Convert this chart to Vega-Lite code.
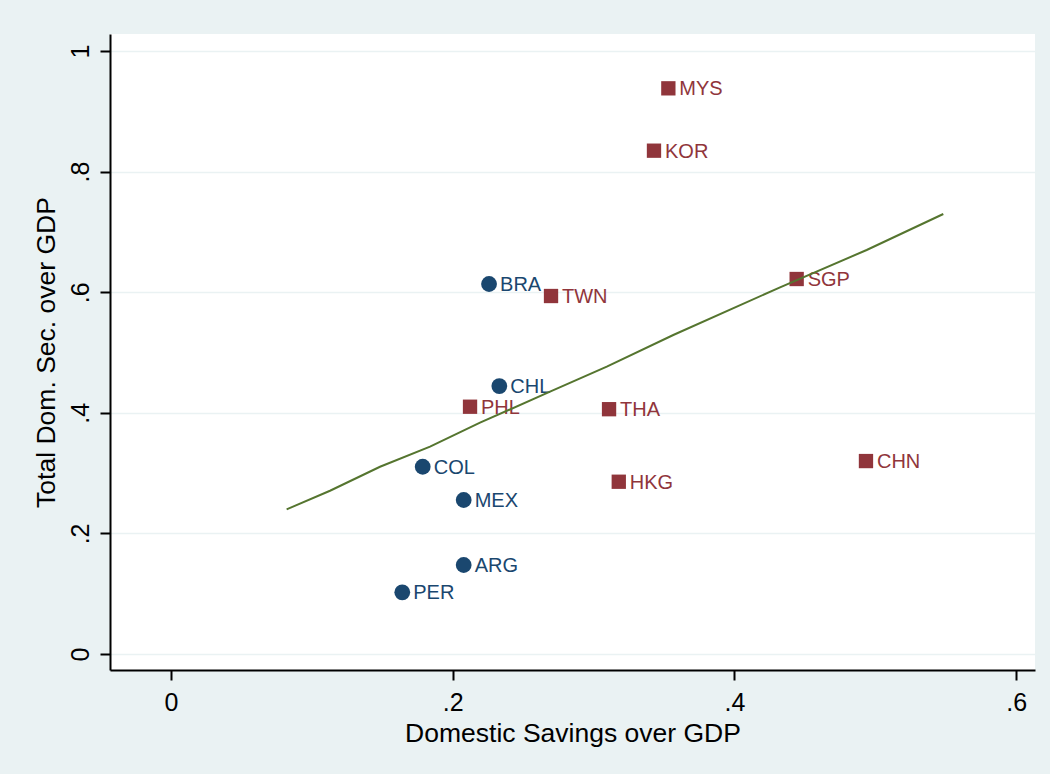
{
  "$schema": "https://vega.github.io/schema/vega-lite/v6.json",
  "width": 925,
  "height": 636,
  "autosize": {"type": "none"},
  "padding": {"left": 110, "top": 34, "right": 15, "bottom": 104},
  "background": "#EAF2F3",
  "config": {
    "font": "Liberation Sans",
    "view": {"fill": "white", "stroke": null},
    "axis": {
      "labelFontSize": 25,
      "titleFontSize": 26.5,
      "titleFontWeight": "normal",
      "labelColor": "black",
      "titleColor": "black",
      "domainColor": "black",
      "domainWidth": 2,
      "tickColor": "black",
      "tickWidth": 2,
      "tickSize": 10,
      "gridColor": "#EAF2F3",
      "gridWidth": 1.5,
      "labelFont": "Liberation Sans",
      "titleFont": "Liberation Sans"
    }
  },
  "datasets": {
    "pts": [
      {"x": 0.2258, "y": 0.6136, "code": "BRA", "region": "Latin America"},
      {"x": 0.2331, "y": 0.4444, "code": "CHL", "region": "Latin America"},
      {"x": 0.1787, "y": 0.3106, "code": "COL", "region": "Latin America"},
      {"x": 0.2078, "y": 0.2554, "code": "MEX", "region": "Latin America"},
      {"x": 0.2078, "y": 0.1476, "code": "ARG", "region": "Latin America"},
      {"x": 0.1642, "y": 0.1023, "code": "PER", "region": "Latin America"},
      {"x": 0.3531, "y": 0.9381, "code": "MYS", "region": "Asia"},
      {"x": 0.3429, "y": 0.8347, "code": "KOR", "region": "Asia"},
      {"x": 0.4442, "y": 0.6219, "code": "SGP", "region": "Asia"},
      {"x": 0.2698, "y": 0.5937, "code": "TWN", "region": "Asia"},
      {"x": 0.2123, "y": 0.4101, "code": "PHL", "region": "Asia"},
      {"x": 0.311, "y": 0.406, "code": "THA", "region": "Asia"},
      {"x": 0.3179, "y": 0.2857, "code": "HKG", "region": "Asia"},
      {"x": 0.4934, "y": 0.320, "code": "CHN", "region": "Asia"}
    ],
    "fit": [
      {"x": 0.0821, "y": 0.2400},
      {"x": 0.1129, "y": 0.2708},
      {"x": 0.1484, "y": 0.3106},
      {"x": 0.1839, "y": 0.3438},
      {"x": 0.2194, "y": 0.3836},
      {"x": 0.2691, "y": 0.4350},
      {"x": 0.3094, "y": 0.4765},
      {"x": 0.3566, "y": 0.5290},
      {"x": 0.4324, "y": 0.6081},
      {"x": 0.4939, "y": 0.6700},
      {"x": 0.5483, "y": 0.7297}
    ]
  },
  "encoding": {
    "x": {
      "field": "x",
      "type": "quantitative",
      "scale": {"domain": [-0.0433, 0.6134], "nice": false, "zero": false},
      "axis": {
        "title": "Domestic Savings over GDP",
        "values": [0, 0.2, 0.4, 0.6],
        "grid": false,
        "labelExpr": "replace(format(datum.value, '.1~f'), '0.', '.')",
        "labelPadding": 10,
        "titlePadding": 5
      }
    },
    "y": {
      "field": "y",
      "type": "quantitative",
      "scale": {"domain": [-0.0265, 1.0282], "nice": false, "zero": false},
      "axis": {
        "title": "Total Dom. Sec. over GDP",
        "values": [0, 0.2, 0.4, 0.6, 0.8, 1],
        "grid": true,
        "labelExpr": "replace(format(datum.value, '.1~f'), '0.', '.')",
        "labelAngle": -90,
        "labelAlign": "center",
        "labelBaseline": "alphabetic",
        "labelPadding": 12,
        "titlePadding": 8
      }
    }
  },
  "layer": [
    {
      "data": {"name": "pts"},
      "mark": {"type": "point", "filled": true, "opacity": 1},
      "encoding": {
        "shape": {
          "field": "region",
          "type": "nominal",
          "scale": {"domain": ["Latin America", "Asia"], "range": ["circle", "square"]},
          "legend": null
        },
        "size": {
          "field": "region",
          "type": "nominal",
          "scale": {"domain": ["Latin America", "Asia"], "range": [250, 205]},
          "legend": null
        },
        "color": {
          "field": "region",
          "type": "nominal",
          "scale": {"domain": ["Latin America", "Asia"], "range": ["#1A476F", "#90353B"]},
          "legend": null
        }
      }
    },
    {
      "data": {"name": "pts"},
      "mark": {"type": "text", "align": "left", "baseline": "middle", "dx": 11, "dy": 1, "fontSize": 20, "font": "Liberation Sans"},
      "encoding": {
        "text": {"field": "code", "type": "nominal"},
        "color": {
          "field": "region",
          "type": "nominal",
          "scale": {"domain": ["Latin America", "Asia"], "range": ["#1A476F", "#90353B"]},
          "legend": null
        }
      }
    },
    {
      "data": {"name": "fit"},
      "mark": {"type": "line", "color": "#55752F", "strokeWidth": 2},
      "encoding": {}
    }
  ]
}
